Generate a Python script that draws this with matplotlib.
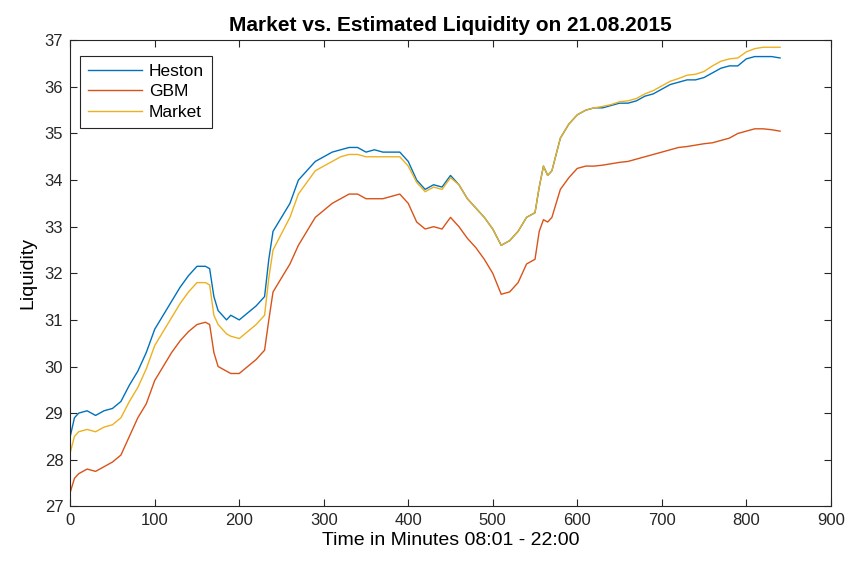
import matplotlib
matplotlib.use("Agg")
import matplotlib.pyplot as plt

plt.rcParams['font.family'] = ['Liberation Sans', 'DejaVu Sans']

minutes = [0, 5, 10, 20, 30, 40, 50, 60, 70, 80, 90, 100, 110, 120, 130, 140,
           150, 160, 165, 170, 175, 185, 190, 200, 210, 220, 230, 235, 240, 250,
           260, 270, 280, 290, 300, 310, 320, 330, 340, 350, 360, 370, 380, 390,
           400, 410, 420, 430, 440, 450, 460, 470, 480, 490, 500, 510, 520, 530,
           540, 550, 555, 560, 565, 570, 580, 590, 600, 610, 620, 630, 640, 650,
           660, 670, 680, 690, 700, 710, 720, 730, 740, 750, 760, 770, 780, 790,
           800, 810, 820, 830, 840]

heston = [28.5, 28.9, 29.0, 29.05, 28.95, 29.05, 29.1, 29.25, 29.6, 29.9, 30.3,
          30.8, 31.1, 31.4, 31.7, 31.95, 32.15, 32.15, 32.1, 31.5, 31.2, 31.0,
          31.1, 31.0, 31.15, 31.3, 31.5, 32.3, 32.9, 33.2, 33.5, 34.0, 34.2,
          34.4, 34.5, 34.6, 34.65, 34.7, 34.7, 34.6, 34.65, 34.6, 34.6, 34.6,
          34.4, 34.0, 33.8, 33.9, 33.85, 34.1, 33.9, 33.6, 33.4, 33.2, 32.95,
          32.6, 32.7, 32.9, 33.2, 33.3, 33.85, 34.3, 34.1, 34.2, 34.9, 35.2,
          35.4, 35.5, 35.55, 35.55, 35.6, 35.65, 35.65, 35.7, 35.8, 35.85, 35.95,
          36.05, 36.1, 36.15, 36.15, 36.2, 36.3, 36.4, 36.45, 36.45, 36.6, 36.65,
          36.65, 36.65, 36.62]

gbm = [27.3, 27.6, 27.7, 27.8, 27.75, 27.85, 27.95, 28.1, 28.5, 28.9, 29.2,
       29.7, 30.0, 30.3, 30.55, 30.75, 30.9, 30.95, 30.9, 30.3, 30.0, 29.9,
       29.85, 29.85, 30.0, 30.15, 30.35, 31.0, 31.6, 31.9, 32.2, 32.6, 32.9,
       33.2, 33.35, 33.5, 33.6, 33.7, 33.7, 33.6, 33.6, 33.6, 33.65, 33.7,
       33.5, 33.1, 32.95, 33.0, 32.95, 33.2, 33.0, 32.75, 32.55, 32.3, 32.0,
       31.55, 31.6, 31.8, 32.2, 32.3, 32.9, 33.15, 33.1, 33.2, 33.8, 34.05,
       34.25, 34.3, 34.3, 34.32, 34.35, 34.38, 34.4, 34.45, 34.5, 34.55, 34.6,
       34.65, 34.7, 34.72, 34.75, 34.78, 34.8, 34.85, 34.9, 35.0, 35.05, 35.1,
       35.1, 35.08, 35.05]

market = [28.15, 28.5, 28.6, 28.65, 28.6, 28.7, 28.75, 28.9, 29.25, 29.55, 29.95,
          30.45, 30.75, 31.05, 31.35, 31.6, 31.8, 31.8, 31.75, 31.1, 30.9, 30.7,
          30.65, 30.6, 30.75, 30.9, 31.1, 31.9, 32.5, 32.85, 33.2, 33.7, 33.95,
          34.2, 34.3, 34.4, 34.5, 34.55, 34.55, 34.5, 34.5, 34.5, 34.5, 34.5,
          34.3, 33.95, 33.75, 33.85, 33.8, 34.05, 33.9, 33.6, 33.4, 33.2, 32.95,
          32.6, 32.7, 32.9, 33.2, 33.3, 33.85, 34.3, 34.1, 34.2, 34.9, 35.2,
          35.4, 35.5, 35.55, 35.58, 35.62, 35.68, 35.7, 35.75, 35.85, 35.92, 36.02,
          36.12, 36.18, 36.25, 36.27, 36.33, 36.45, 36.55, 36.6, 36.62, 36.75, 36.82,
          36.85, 36.85, 36.85]

x_ticks = list(range(0, 901, 100))
y_ticks = list(range(27, 38))

fig = plt.figure(figsize=(8.46, 5.67), dpi=100)
ax = fig.add_axes([0.083, 0.107, 0.899, 0.822])

ax.plot(minutes, heston, color='#0072BD', lw=1.0, label='Heston')
ax.plot(minutes, gbm, color='#D95319', lw=1.0, label='GBM')
ax.plot(minutes, market, color='#EDB120', lw=1.0, label='Market')

ax.set_xlim(0, 900)
ax.set_ylim(27, 37)
ax.set_xticks(x_ticks)
ax.set_yticks(y_ticks)
ax.tick_params(direction='in', top=True, right=True, length=5, width=0.8,
               labelsize=12, colors='#262626', pad=5)
for s in ax.spines.values():
    s.set_color('#262626')
    s.set_linewidth(0.8)

ax.set_title('Market vs. Estimated Liquidity on 21.08.2015', fontsize=15,
             fontweight='bold', pad=7)
ax.set_xlabel('Time in Minutes 08:01 - 22:00', fontsize=14, labelpad=3)
ax.set_ylabel('Liquidity', fontsize=14, labelpad=6)

leg = ax.legend(loc='upper left', bbox_to_anchor=(0.013, 0.966),
                borderaxespad=0, fontsize=12.5, fancybox=False, framealpha=1,
                edgecolor='#262626', handlelength=3.1, labelspacing=0.3,
                handletextpad=0.4, borderpad=0.45)
leg.get_frame().set_linewidth(0.8)

fig.savefig('out.png', dpi=100)
